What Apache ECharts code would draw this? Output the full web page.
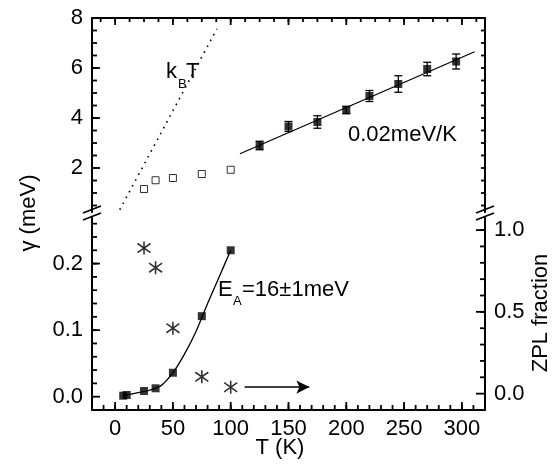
<!DOCTYPE html>
<html>
<head>
<meta charset="utf-8">
<script src="https://cdn.jsdelivr.net/npm/echarts@6/dist/echarts.min.js"></script>
<style>
  html, body { margin: 0; padding: 0; background: #fff; }
  #chart { width: 552px; height: 470px; }
</style>
</head>
<body>
<div id="chart"></div>
<script>
// upper panel: linewidth vs T
const tHigh = [125, 150, 175, 200, 220, 245, 270, 295];
const gHigh = [2.9, 3.66, 3.84, 4.32, 4.88, 5.36, 5.96, 6.26];
const errHigh = [0.17, 0.2, 0.25, 0.15, 0.22, 0.33, 0.27, 0.3];
const tOpen = [25, 35, 50, 75, 100];
const gOpen = [1.16, 1.51, 1.6, 1.76, 1.93];
const kbtT = [4, 88];
const kbtG = [0.33, 7.56];
const fitT = [108, 311];
const fitG = [2.57, 6.65];

// lower panel: activation + ZPL fraction
const tAct = [7, 10, 25, 35, 50, 75, 100];
const gAct = [0.0015, 0.0025, 0.0085, 0.0126, 0.036, 0.121, 0.22];
const curveT = [7, 10, 20, 30, 40, 50, 60, 70, 80, 90, 100];
const curveG = [0.0015, 0.0025, 0.006, 0.010, 0.017, 0.036, 0.064, 0.098, 0.140, 0.180, 0.22];
const tZpl = [25, 35, 50, 75, 100];
const zpl = [0.89, 0.77, 0.40, 0.103, 0.039];
const arrowT = [112, 168];
const arrowZ = [0.04, 0.04];

// tick labels
const xTicks = [0, 50, 100, 150, 200, 250, 300];
const yTopTicks = [2, 4, 6, 8];
const yLowTicks = [0, 0.1, 0.2];
const zplTicks = [0, 0.5, 1.0];

// axis ranges
const X_MIN = -20, X_MAX = 320;
const YT_MIN = 0.24, YT_MAX = 8;
const YB_MIN = -0.02, YB_MAX = 0.27;
const Z_MIN = -0.1, Z_MAX = 1.08;

// layout
const W = 552, LEFT = 92, RIGHT = 67;
const GRID0 = { top: 18, height: 194 };
const GRID1 = { top: 217, height: 193 };
const PL = LEFT, PR = W - RIGHT;
const G1B = GRID1.top + GRID1.height;

function steps(a, b, s) {
  const out = [];
  for (let v = a; v <= b + 1e-9; v += s) out.push(Math.round(v * 1000) / 1000);
  return out;
}

const FONT = 'Liberation Sans, Arial, sans-serif';
const BLACK = '#000';
const lbl = { color: BLACK, fontSize: 22, fontFamily: FONT };

function axis(extra) {
  return Object.assign({
    type: 'value',
    splitLine: { show: false },
    axisLine: { show: true, onZero: false, lineStyle: { color: BLACK, width: 2 } },
    axisLabel: { show: false },
    axisTick: { show: false }
  }, extra);
}

const chart = echarts.init(document.getElementById('chart'));

const asterisk = 'path://M0,-10L0,10M-8,-7L8,7M-8,7L8,-7';

chart.setOption({
  animation: false,
  grid: [
    { left: LEFT, right: RIGHT, top: GRID0.top, height: GRID0.height },
    { left: LEFT, right: RIGHT, top: GRID1.top, height: GRID1.height }
  ],
  xAxis: [
    axis({ gridIndex: 0, position: 'top', min: X_MIN, max: X_MAX }),
    axis({
      gridIndex: 1, position: 'bottom', min: X_MIN, max: X_MAX,
      axisLabel: Object.assign({ show: true, margin: 8, customValues: xTicks }, lbl)
    })
  ],
  yAxis: [
    axis({
      gridIndex: 0, position: 'left', min: YT_MIN, max: YT_MAX,
      axisLabel: Object.assign({ show: true, margin: 9, customValues: yTopTicks }, lbl)
    }),
    axis({ gridIndex: 0, position: 'right', min: YT_MIN, max: YT_MAX }),
    axis({
      gridIndex: 1, position: 'left', min: YB_MIN, max: YB_MAX,
      axisLabel: Object.assign({ show: true, margin: 9, customValues: yLowTicks, formatter: v => (+v).toFixed(1) }, lbl)
    }),
    axis({
      gridIndex: 1, position: 'right', min: Z_MIN, max: Z_MAX,
      axisLabel: Object.assign({ show: true, margin: 9, customValues: zplTicks, formatter: v => (+v).toFixed(1) }, lbl)
    })
  ],
  series: [
    {
      type: 'line', xAxisIndex: 0, yAxisIndex: 0, symbol: 'none',
      data: kbtT.map((t, i) => [t, kbtG[i]]),
      lineStyle: { color: BLACK, width: 1.6, type: [1.6, 5] }
    },
    {
      type: 'line', xAxisIndex: 0, yAxisIndex: 0, symbol: 'none',
      data: fitT.map((t, i) => [t, fitG[i]]),
      lineStyle: { color: BLACK, width: 1.3 }
    },
    {
      type: 'custom', xAxisIndex: 0, yAxisIndex: 0,
      data: tHigh.map((t, i) => [t, gHigh[i] - errHigh[i], gHigh[i] + errHigh[i]]),
      encode: { x: 0, y: [1, 2] },
      renderItem: function (params, api) {
        const x = api.value(0);
        const lo = api.coord([x, api.value(1)]);
        const hi = api.coord([x, api.value(2)]);
        const w = 4;
        const st = { stroke: BLACK, lineWidth: 1.3 };
        return {
          type: 'group',
          children: [
            { type: 'line', shape: { x1: lo[0], y1: lo[1], x2: hi[0], y2: hi[1] }, style: st },
            { type: 'line', shape: { x1: lo[0] - w, y1: lo[1], x2: lo[0] + w, y2: lo[1] }, style: st },
            { type: 'line', shape: { x1: hi[0] - w, y1: hi[1], x2: hi[0] + w, y2: hi[1] }, style: st }
          ]
        };
      }
    },
    {
      type: 'scatter', xAxisIndex: 0, yAxisIndex: 0, symbol: 'rect', symbolSize: 8,
      data: tHigh.map((t, i) => [t, gHigh[i]]),
      itemStyle: { color: BLACK }
    },
    {
      type: 'scatter', xAxisIndex: 0, yAxisIndex: 0, symbol: 'rect', symbolSize: 7,
      data: tOpen.map((t, i) => [t, gOpen[i]]),
      itemStyle: { color: '#fff', borderColor: BLACK, borderWidth: 1 }
    },
    {
      type: 'line', xAxisIndex: 1, yAxisIndex: 2, symbol: 'none', smooth: 0.3,
      data: curveT.map((t, i) => [t, curveG[i]]),
      lineStyle: { color: BLACK, width: 1.3 }
    },
    {
      type: 'scatter', xAxisIndex: 1, yAxisIndex: 2, symbol: 'rect', symbolSize: 8,
      data: tAct.map((t, i) => [t, gAct[i]]),
      itemStyle: { color: BLACK }
    },
    {
      type: 'scatter', xAxisIndex: 1, yAxisIndex: 3, symbol: asterisk, symbolSize: 13,
      data: tZpl.map((t, i) => [t, zpl[i]]),
      itemStyle: { color: 'transparent', borderColor: BLACK, borderWidth: 1.6 }
    },
    {
      type: 'line', xAxisIndex: 1, yAxisIndex: 3, symbol: 'none', data: [],
      markLine: {
        silent: true, symbol: ['none', 'arrow'], symbolSize: [10, 13],
        label: { show: false },
        lineStyle: { color: BLACK, width: 1.6, type: 'solid' },
        data: [[{ coord: [arrowT[0], arrowZ[0]] }, { coord: [arrowT[1], arrowZ[1]] }]]
      }
    }
  ]
});

// pixel of a value along one axis (library scale, linear fallback)
function pos(key, idx, v, a0, a1, p0, p1) {
  let p = null;
  try {
    const finder = {};
    finder[key] = idx;
    p = chart.convertToPixel(finder, v);
    if (Array.isArray(p)) p = key === 'xAxisIndex' ? p[0] : p[1];
  } catch (e) { p = null; }
  if (typeof p !== 'number' || !isFinite(p)) p = p0 + (v - a0) / (a1 - a0) * (p1 - p0);
  return p;
}

// ticks drawn as thin filled bars pointing into the plot
const tickEls = [];
function xTicksAt(idx, vals, edgeY, len) {
  vals.forEach(v => {
    const x = pos('xAxisIndex', idx, v, X_MIN, X_MAX, PL, PR);
    const y = len > 0 ? edgeY : edgeY + len;
    tickEls.push({ type: 'rect', shape: { x: x - 0.9, y: y, width: 1.8, height: Math.abs(len) },
      style: { fill: BLACK } });
  });
}
function yTicksAt(idx, vals, a0, a1, g, edgeX, len) {
  vals.forEach(v => {
    const y = pos('yAxisIndex', idx, v, a0, a1, g.top + g.height, g.top);
    const x = len > 0 ? edgeX : edgeX + len;
    tickEls.push({ type: 'rect', shape: { x: x, y: y - 0.9, width: Math.abs(len), height: 1.8 },
      style: { fill: BLACK } });
  });
}
xTicksAt(0, xTicks, GRID0.top, 7);
xTicksAt(0, steps(-12.5, 312.5, 12.5), GRID0.top, 4);
xTicksAt(1, xTicks, G1B, -8);
xTicksAt(1, steps(-10, 310, 10), G1B, -5);
yTicksAt(0, yTopTicks, YT_MIN, YT_MAX, GRID0, PL, 8);
yTicksAt(0, steps(0.5, 7.5, 0.5), YT_MIN, YT_MAX, GRID0, PL, 5);
yTicksAt(1, steps(0.5, 7.5, 0.5), YT_MIN, YT_MAX, GRID0, PR, -4);
yTicksAt(2, yLowTicks, YB_MIN, YB_MAX, GRID1, PL, 8);
yTicksAt(2, steps(0.02, 0.26, 0.02), YB_MIN, YB_MAX, GRID1, PL, 5);
yTicksAt(3, zplTicks, Z_MIN, Z_MAX, GRID1, PR, -9);
yTicksAt(3, steps(0.1, 1.0, 0.1), Z_MIN, Z_MAX, GRID1, PR, -5);

chart.setOption({
  graphic: [
    // axis breaks
    { type: 'line', shape: { x1: 83, y1: 213, x2: 101, y2: 206 }, style: { stroke: BLACK, lineWidth: 1.8 } },
    { type: 'line', shape: { x1: 83, y1: 220, x2: 101, y2: 213 }, style: { stroke: BLACK, lineWidth: 1.8 } },
    { type: 'line', shape: { x1: 476, y1: 213, x2: 494, y2: 206 }, style: { stroke: BLACK, lineWidth: 1.8 } },
    { type: 'line', shape: { x1: 476, y1: 220, x2: 494, y2: 213 }, style: { stroke: BLACK, lineWidth: 1.8 } },
    // axis titles
    { type: 'text', x: 29, y: 213, rotation: Math.PI / 2,
      style: { text: 'γ (meV)', fill: BLACK, font: '22px ' + FONT, align: 'center', verticalAlign: 'middle' } },
    { type: 'text', x: 541, y: 313, rotation: Math.PI / 2,
      style: { text: 'ZPL fraction', fill: BLACK, font: '22px ' + FONT, align: 'center', verticalAlign: 'middle' } },
    { type: 'text', x: 280, y: 448,
      style: { text: 'T (K)', fill: BLACK, font: '22px ' + FONT, align: 'center', verticalAlign: 'middle' } },
    // annotations
    { type: 'text', x: 166, y: 72, style: { text: 'k', fill: BLACK, font: '22px ' + FONT, verticalAlign: 'middle' } },
    { type: 'text', x: 178, y: 84, style: { text: 'B', fill: BLACK, font: '13px ' + FONT, verticalAlign: 'middle' } },
    { type: 'text', x: 186, y: 72, style: { text: 'T', fill: BLACK, font: '22px ' + FONT, verticalAlign: 'middle' } },
    { type: 'text', x: 348, y: 135, style: { text: '0.02meV/K', fill: BLACK, font: '22px ' + FONT, verticalAlign: 'middle' } },
    { type: 'text', x: 218, y: 290, style: { text: 'E', fill: BLACK, font: '22px ' + FONT, verticalAlign: 'middle' } },
    { type: 'text', x: 233, y: 301, style: { text: 'A', fill: BLACK, font: '13px ' + FONT, verticalAlign: 'middle' } },
    { type: 'text', x: 242, y: 290, style: { text: '=16±1meV', fill: BLACK, font: '22px ' + FONT, verticalAlign: 'middle' } }
  ].concat(tickEls)
});
</script>
</body>
</html>
